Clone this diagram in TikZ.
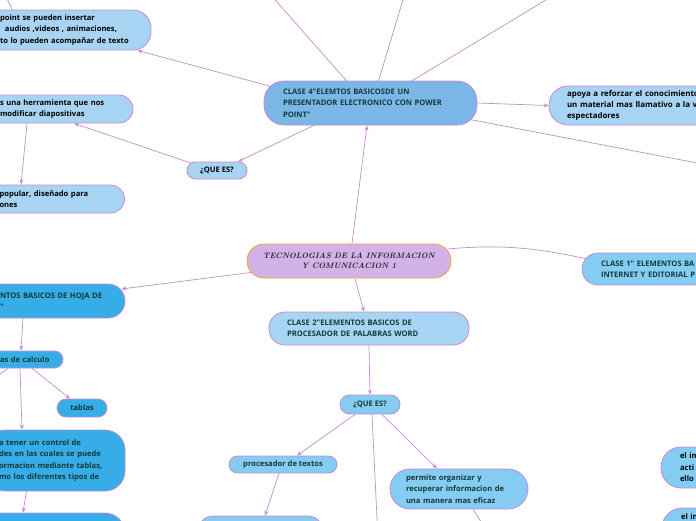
\documentclass[tikz,border=0pt]{standalone}
\usepackage{fontspec}
\newfontfamily\mapfont{Open Sans}
\usepackage{xcolor}
\usepackage{tikz}
\usetikzlibrary{arrows.meta, backgrounds}

\definecolor{linkpink}{HTML}{C68BD2}
\definecolor{lightblue}{HTML}{A8D4F4}
\definecolor{midblue}{HTML}{7AB6E6}
\definecolor{skyblue}{HTML}{84CCF2}
\definecolor{deepblue}{HTML}{36ADE7}
\definecolor{lavender}{HTML}{D2B2E8}
\definecolor{titleorange}{HTML}{F4A236}
\definecolor{tealtext}{HTML}{15393A}

\begin{document}
\begin{tikzpicture}[x=1pt, y=-1pt,
    bubble/.style={draw=linkpink, line width=0.8pt, rounded corners=#1, inner sep=0pt,
      align=left, text=tealtext, font=\mapfont\bfseries\fontsize{7.6}{11.4}\selectfont},
    bubble/.default=14pt,
    link/.style={draw=linkpink, line width=0.7pt},
    linkarrow/.style={link, -{Stealth[length=5pt,width=4pt]}}]
        \useasboundingbox (0,0) rectangle (696,520);
        \clip (0,0) rectangle (696,520);
        % centre
        \node[bubble=17pt, fill=lavender, draw=titleorange, minimum width=204pt, minimum height=34pt,
          align=center, text=black!85, font=\normalfont\itshape\bfseries\fontsize{7.9}{9.5}\selectfont]
          (tic) at (349,261) {TECNOLOGIAS DE LA INFORMACION\\ Y COMUNICACION 1};
        % clase 4
        \node[bubble=20pt, fill=midblue, minimum width=213pt, minimum height=44pt, text width=175pt]
          (clase4) at (370.5,103) {CLASE 4"ELEMTOS BASICOSDE UN\\ PRESENTADOR ELECTRONICO CON POWER\\ POINT"};
        \node[bubble=18pt, fill=lightblue, text=black, minimum width=169pt, minimum height=40pt, text width=133pt]
          (ppt) at (66.5,30) {point se pueden insertar\\ \hspace*{5pt}audios ,videos , animaciones,\\ to lo pueden acompañar de texto};
        \node[bubble=19pt, fill=lightblue, text=black, minimum width=200pt, minimum height=39pt, text width=164pt,
          font=\mapfont\bfseries\fontsize{7.9}{10.6}\selectfont]
          (apoya) at (649,105.5) {apoya a reforzar el conocimiento\\ un material mas llamativo a la v\\ espectadores};
        \node[bubble=8.5pt, fill=lightblue, text=black, minimum width=60pt, minimum height=17pt, align=center]
          (ques1) at (217,170.5) {¿QUE ES?};
        \node[bubble=14pt, fill=lightblue, text=black, minimum width=158pt, minimum height=28pt, text width=108pt]
          (herram) at (54,109) {s una herramienta que nos\\ modificar diapositivas};
        \node[bubble=14pt, fill=lightblue, text=black, minimum width=150pt, minimum height=28pt, text width=100pt]
          (popular) at (49.5,199) {popular, diseñado para\\ ones};
        % clase 2
        \node[bubble=16pt, fill=lightblue, minimum width=200pt, minimum height=33pt, text width=164pt]
          (clase2) at (369,328.5) {CLASE 2"ELEMENTOS BASICOS DE\\ PROCESADOR DE PALABRAS WORD};
        \node[bubble=9.5pt, fill=skyblue, minimum width=60pt, minimum height=19pt, align=center]
          (ques2) at (370,404.5) {¿QUE ES?};
        \node[bubble=8.5pt, fill=skyblue, minimum width=108pt, minimum height=17pt, align=center]
          (proc) at (283,464.5) {procesador de textos};
        \node[bubble=15pt, fill=skyblue, minimum width=125pt, minimum height=30pt]
          (proc2) at (260.5,531) {};
        \node[bubble=20pt, fill=skyblue, minimum width=138pt, minimum height=40pt, text width=106pt]
          (permite) at (459,489) {permite organizar y\\ recuperar informacion de\\ una manera mas eficaz};
        % clase 1
        \node[bubble=16pt, fill=skyblue, minimum width=200pt, minimum height=32pt, text width=162pt]
          (clase1) at (682,269) {CLASE 1" ELEMENTOS BA\\ INTERNET Y EDITORIAL P};
        \node[bubble=20pt, fill=skyblue, text=black, minimum width=150pt, minimum height=41pt, text width=112pt]
          (inet1) at (736,467.5) {el in\\ acti\\ ello};
        \node[bubble=20pt, fill=skyblue, text=black, minimum width=150pt, minimum height=41pt, text width=112pt]
          (inet2) at (737,528.5) {el in\\ \mbox{}\\ \mbox{}};
        % hoja de calculo
        \node[bubble=17pt, fill=deepblue, minimum width=145pt, minimum height=34pt, text width=105pt]
          (hoja) at (52.5,301) {NTOS BASICOS DE HOJA DE\\ "};
        \node[bubble=8.5pt, fill=deepblue, minimum width=76pt, minimum height=17pt, text width=50pt]
          (calculo) at (25,359.5) {as de calculo};
        \node[bubble=9pt, fill=deepblue, minimum width=50pt, minimum height=18pt, align=center]
          (tablas) at (82,408) {tablas};
        \node[bubble=20pt, fill=deepblue, minimum width=140pt, minimum height=61pt, text width=112pt]
          (control) at (55,460.5) {a tener un control de\\ des en las cuales se puede\\ ormacion mediante tablas,\\ mo los diferentes tipos de};
        \node[bubble=20pt, fill=deepblue, minimum width=150pt, minimum height=40pt]
          (hoja4) at (50,533) {};
        % ends off the page
        \coordinate (offA) at (240,-40);
        \coordinate (offB) at (415,-40);
        \coordinate (offC) at (612,-40);
        \coordinate (offR) at (760,175);
        \coordinate (offD) at (3,-10);
        \coordinate (offE) at (379,560);
        \coordinate (offF) at (493,540);
        \coordinate (offG) at (-30,395);
        \begin{pgfonlayer}{background}
        % links
        \draw[link] ([xshift=-22.5pt,yshift=-2pt]clase4.north) -- (offA);
        \draw[link] ([xshift=7.5pt,yshift=-2pt]clase4.north) -- (offB);
        \draw[link] ([xshift=38.5pt,yshift=-2pt]clase4.north) -- (offC);
        \draw[link] ([xshift=-8pt,yshift=6pt]clase4.south east) -- (offR);
        \draw[link] ([xshift=-53.5pt,yshift=-2pt]ppt.north) -- (offD);
        \draw[linkarrow] ([xshift=8pt,yshift=-6pt]clase4.north west) -- ([xshift=-14pt]ppt.south east);
        \draw[linkarrow] ([xshift=-52.5pt,yshift=2pt]clase4.south) -- ([xshift=21pt]ques1.north);
        \draw[linkarrow] ([xshift=6pt,yshift=-2pt]ques1.north west) -- ([xshift=20pt]herram.south);
        \draw[linkarrow] ([xshift=-27pt]herram.south) -- ([xshift=-28.5pt]popular.north);
        \draw[linkarrow] (clase4.east) -- (apoya.west);
        \draw[linkarrow] ([xshift=3pt]tic.north) -- ([xshift=-3.5pt]clase4.south);
        \draw[linkarrow] ([xshift=6pt]tic.south) -- ([xshift=-5pt]clase2.north);
        \draw[linkarrow] ([xshift=8pt,yshift=-11pt]tic.west) -- ([xshift=-4pt,yshift=12pt]hoja.east);
        \draw[link] ([xshift=-4pt,yshift=12pt]tic.east) to[out=5, in=168] ([xshift=6pt,yshift=10pt]clase1.west);
        \draw[linkarrow] (clase2.south) -- (ques2.north);
        \draw[linkarrow] ([xshift=-15pt]ques2.south) -- ([xshift=14pt]proc.north);
        \draw[linkarrow] ([xshift=12pt]ques2.south) -- ([xshift=-22pt]permite.north);
        \draw[link] ([xshift=2pt]ques2.south) -- (offE);
        \draw[linkarrow] ([xshift=-4pt]proc.south) -- ([xshift=4.5pt]proc2.north);
        \draw[link] ([xshift=14pt]permite.south) -- (offF);
        \draw[linkarrow] ([xshift=-29.5pt]hoja.south) -- ([xshift=-4pt]calculo.north);
        \draw[linkarrow] ([xshift=7pt]calculo.south) -- ([xshift=-12pt]tablas.north);
        \draw[link] ([xshift=-17pt]calculo.south) -- (offG);
        \draw[linkarrow] ([xshift=-5pt]calculo.south) -- ([xshift=-33pt]control.north);
        \draw[linkarrow] ([xshift=-28.5pt]control.south) -- ([xshift=-27pt]hoja4.north);
        \end{pgfonlayer}
      \end{tikzpicture}
\end{document}
